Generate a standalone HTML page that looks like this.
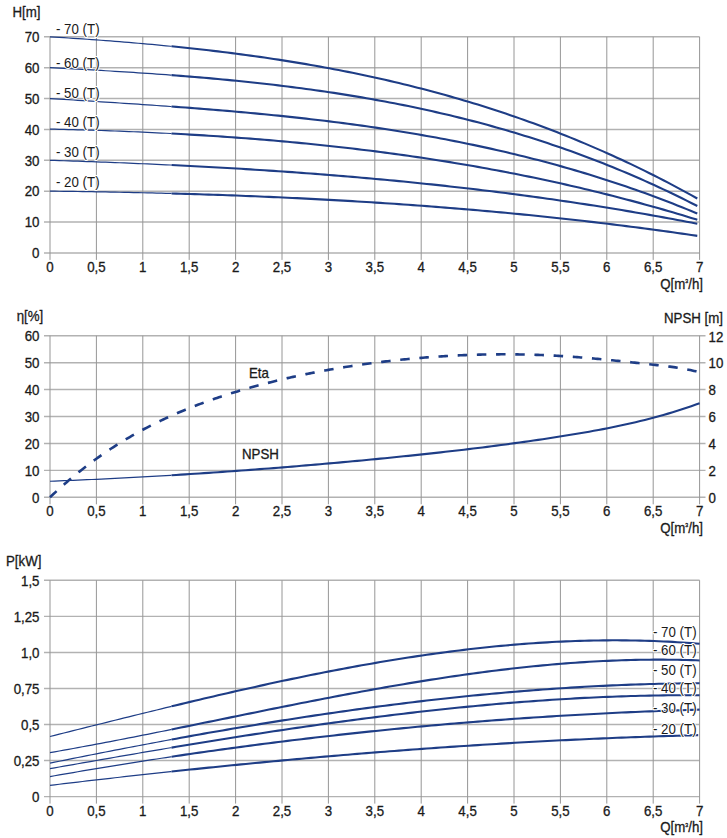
<!DOCTYPE html>
<html><head><meta charset="utf-8"><style>
html,body{margin:0;padding:0;background:#fff;}
svg{display:block;}
text{font-family:"Liberation Sans", sans-serif;fill:#1a1a1a;stroke:#1a1a1a;stroke-width:0.3px;}
text.halo{stroke:#fff;stroke-width:2px;paint-order:stroke;stroke-linejoin:round;}
</style></head><body>
<svg width="727" height="838" viewBox="0 0 727 838">
<line x1="44" y1="252.90" x2="699.60" y2="252.90" stroke="#b2b2b2" stroke-width="1.45"/>
<line x1="44" y1="222.03" x2="699.60" y2="222.03" stroke="#b2b2b2" stroke-width="1.45"/>
<line x1="44" y1="191.16" x2="699.60" y2="191.16" stroke="#b2b2b2" stroke-width="1.45"/>
<line x1="44" y1="160.29" x2="699.60" y2="160.29" stroke="#b2b2b2" stroke-width="1.45"/>
<line x1="44" y1="129.42" x2="699.60" y2="129.42" stroke="#b2b2b2" stroke-width="1.45"/>
<line x1="44" y1="98.55" x2="699.60" y2="98.55" stroke="#b2b2b2" stroke-width="1.45"/>
<line x1="44" y1="67.68" x2="699.60" y2="67.68" stroke="#b2b2b2" stroke-width="1.45"/>
<line x1="44" y1="36.81" x2="699.60" y2="36.81" stroke="#b2b2b2" stroke-width="1.45"/>
<line x1="50.00" y1="36.81" x2="50.00" y2="259.90" stroke="#969696" stroke-width="1.0"/>
<line x1="96.40" y1="36.81" x2="96.40" y2="259.90" stroke="#969696" stroke-width="1.0"/>
<line x1="142.80" y1="36.81" x2="142.80" y2="259.90" stroke="#969696" stroke-width="1.0"/>
<line x1="189.20" y1="36.81" x2="189.20" y2="259.90" stroke="#969696" stroke-width="1.0"/>
<line x1="235.60" y1="36.81" x2="235.60" y2="259.90" stroke="#969696" stroke-width="1.0"/>
<line x1="282.00" y1="36.81" x2="282.00" y2="259.90" stroke="#969696" stroke-width="1.0"/>
<line x1="328.40" y1="36.81" x2="328.40" y2="259.90" stroke="#969696" stroke-width="1.0"/>
<line x1="374.80" y1="36.81" x2="374.80" y2="259.90" stroke="#969696" stroke-width="1.0"/>
<line x1="421.20" y1="36.81" x2="421.20" y2="259.90" stroke="#969696" stroke-width="1.0"/>
<line x1="467.60" y1="36.81" x2="467.60" y2="259.90" stroke="#969696" stroke-width="1.0"/>
<line x1="514.00" y1="36.81" x2="514.00" y2="259.90" stroke="#969696" stroke-width="1.0"/>
<line x1="560.40" y1="36.81" x2="560.40" y2="259.90" stroke="#969696" stroke-width="1.0"/>
<line x1="606.80" y1="36.81" x2="606.80" y2="259.90" stroke="#969696" stroke-width="1.0"/>
<line x1="653.20" y1="36.81" x2="653.20" y2="259.90" stroke="#969696" stroke-width="1.0"/>
<line x1="699.60" y1="36.81" x2="699.60" y2="259.90" stroke="#969696" stroke-width="1.0"/>
<text transform="translate(12.50,16.90) scale(0.95,1)" text-anchor="start" font-size="14">H[m]</text>
<text transform="translate(39.50,258.20) scale(0.95,1)" text-anchor="end" font-size="14">0</text>
<text transform="translate(39.50,227.33) scale(0.95,1)" text-anchor="end" font-size="14">10</text>
<text transform="translate(39.50,196.46) scale(0.95,1)" text-anchor="end" font-size="14">20</text>
<text transform="translate(39.50,165.59) scale(0.95,1)" text-anchor="end" font-size="14">30</text>
<text transform="translate(39.50,134.72) scale(0.95,1)" text-anchor="end" font-size="14">40</text>
<text transform="translate(39.50,103.85) scale(0.95,1)" text-anchor="end" font-size="14">50</text>
<text transform="translate(39.50,72.98) scale(0.95,1)" text-anchor="end" font-size="14">60</text>
<text transform="translate(39.50,42.11) scale(0.95,1)" text-anchor="end" font-size="14">70</text>
<text transform="translate(50.00,271.80) scale(0.95,1)" text-anchor="middle" font-size="14">0</text>
<text transform="translate(96.40,271.80) scale(0.95,1)" text-anchor="middle" font-size="14">0,5</text>
<text transform="translate(142.80,271.80) scale(0.95,1)" text-anchor="middle" font-size="14">1</text>
<text transform="translate(189.20,271.80) scale(0.95,1)" text-anchor="middle" font-size="14">1,5</text>
<text transform="translate(235.60,271.80) scale(0.95,1)" text-anchor="middle" font-size="14">2</text>
<text transform="translate(282.00,271.80) scale(0.95,1)" text-anchor="middle" font-size="14">2,5</text>
<text transform="translate(328.40,271.80) scale(0.95,1)" text-anchor="middle" font-size="14">3</text>
<text transform="translate(374.80,271.80) scale(0.95,1)" text-anchor="middle" font-size="14">3,5</text>
<text transform="translate(421.20,271.80) scale(0.95,1)" text-anchor="middle" font-size="14">4</text>
<text transform="translate(467.60,271.80) scale(0.95,1)" text-anchor="middle" font-size="14">4,5</text>
<text transform="translate(514.00,271.80) scale(0.95,1)" text-anchor="middle" font-size="14">5</text>
<text transform="translate(560.40,271.80) scale(0.95,1)" text-anchor="middle" font-size="14">5,5</text>
<text transform="translate(606.80,271.80) scale(0.95,1)" text-anchor="middle" font-size="14">6</text>
<text transform="translate(653.20,271.80) scale(0.95,1)" text-anchor="middle" font-size="14">6,5</text>
<text transform="translate(699.60,271.80) scale(0.95,1)" text-anchor="middle" font-size="14">7</text>
<text transform="translate(703.00,289.20) scale(0.95,1)" text-anchor="end" font-size="14">Q[m<tspan font-size="5.5" dy="-5.8">3</tspan><tspan dy="5.8">/h]</tspan></text>
<path d="M50.00,36.81 L54.64,37.10 L59.28,37.39 L63.92,37.69 L68.56,37.99 L73.20,38.30 L77.84,38.61 L82.48,38.93 L87.12,39.26 L91.76,39.59 L96.40,39.92 L101.04,40.26 L105.68,40.61 L110.32,40.97 L114.96,41.33 L119.60,41.69 L124.24,42.07 L128.88,42.45 L133.52,42.84 L138.16,43.24 L142.80,43.64 L147.44,44.05 L152.08,44.47 L156.72,44.90 L161.36,45.34 L166.00,45.78 L170.64,46.24 L171.57,46.33" fill="none" stroke="#1e3d86" stroke-width="1.2"/>
<path d="M171.57,46.33 L176.21,46.79 L180.85,47.27 L185.49,47.75 L190.13,48.24 L194.77,48.75 L199.41,49.26 L204.05,49.78 L208.69,50.31 L213.33,50.86 L217.97,51.41 L222.61,51.97 L227.25,52.55 L231.89,53.13 L236.53,53.73 L241.17,54.34 L245.81,54.96 L250.45,55.59 L255.09,56.24 L259.73,56.89 L264.37,57.56 L269.01,58.24 L273.65,58.93 L278.29,59.64 L282.93,60.36 L287.57,61.09 L292.21,61.84 L296.85,62.60 L301.49,63.37 L306.13,64.16 L310.77,64.96 L315.41,65.77 L320.05,66.60 L324.69,67.45 L329.33,68.30 L333.97,69.18 L338.61,70.07 L343.25,70.97 L347.89,71.89 L352.53,72.82 L357.17,73.78 L361.81,74.74 L366.45,75.73 L371.09,76.72 L375.73,77.74 L380.37,78.77 L385.01,79.82 L389.65,80.89 L394.29,81.97 L398.93,83.07 L403.57,84.19 L408.21,85.33 L412.85,86.48 L417.49,87.65 L422.13,88.84 L426.77,90.05 L431.41,91.28 L436.05,92.53 L440.69,93.79 L445.33,95.08 L449.97,96.38 L454.61,97.70 L459.25,99.05 L463.89,100.41 L468.53,101.79 L473.17,103.20 L477.81,104.62 L482.45,106.06 L487.09,107.53 L491.73,109.01 L496.37,110.52 L501.01,112.05 L505.65,113.60 L510.29,115.17 L514.93,116.76 L519.57,118.38 L524.21,120.01 L528.85,121.67 L533.49,123.35 L538.13,125.06 L542.77,126.78 L547.41,128.53 L552.05,130.31 L556.69,132.10 L561.33,133.92 L565.97,135.77 L570.61,137.64 L575.25,139.53 L579.89,141.44 L584.53,143.38 L589.17,145.35 L593.81,147.34 L598.45,149.35 L603.09,151.39 L607.73,153.46 L612.37,155.55 L617.01,157.67 L621.65,159.81 L626.29,161.98 L630.93,164.17 L635.57,166.39 L640.21,168.64 L644.85,170.91 L649.49,173.21 L654.13,175.54 L658.77,177.90 L663.41,180.28 L668.05,182.69 L672.69,185.13 L677.33,187.59 L681.97,190.09 L686.61,192.61 L691.25,195.16 L695.89,197.74 L697.28,198.52" fill="none" stroke="#1e3d86" stroke-width="2.1"/>
<path d="M50.00,67.65 L54.64,67.89 L59.28,68.14 L63.92,68.39 L68.56,68.64 L73.20,68.89 L77.84,69.15 L82.48,69.40 L87.12,69.66 L91.76,69.93 L96.40,70.19 L101.04,70.46 L105.68,70.74 L110.32,71.02 L114.96,71.30 L119.60,71.58 L124.24,71.88 L128.88,72.17 L133.52,72.47 L138.16,72.78 L142.80,73.09 L147.44,73.40 L152.08,73.72 L156.72,74.05 L161.36,74.38 L166.00,74.72 L170.64,75.07 L171.57,75.14" fill="none" stroke="#1e3d86" stroke-width="1.2"/>
<path d="M171.57,75.14 L176.21,75.49 L180.85,75.85 L185.49,76.22 L190.13,76.59 L194.77,76.98 L199.41,77.37 L204.05,77.77 L208.69,78.17 L213.33,78.59 L217.97,79.01 L222.61,79.44 L227.25,79.88 L231.89,80.33 L236.53,80.79 L241.17,81.26 L245.81,81.73 L250.45,82.22 L255.09,82.72 L259.73,83.23 L264.37,83.75 L269.01,84.28 L273.65,84.82 L278.29,85.37 L282.93,85.93 L287.57,86.50 L292.21,87.09 L296.85,87.68 L301.49,88.29 L306.13,88.92 L310.77,89.55 L315.41,90.20 L320.05,90.86 L324.69,91.53 L329.33,92.21 L333.97,92.91 L338.61,93.63 L343.25,94.35 L347.89,95.09 L352.53,95.85 L357.17,96.62 L361.81,97.40 L366.45,98.20 L371.09,99.02 L375.73,99.85 L380.37,100.69 L385.01,101.55 L389.65,102.43 L394.29,103.32 L398.93,104.23 L403.57,105.15 L408.21,106.09 L412.85,107.05 L417.49,108.03 L422.13,109.02 L426.77,110.03 L431.41,111.06 L436.05,112.11 L440.69,113.17 L445.33,114.25 L449.97,115.35 L454.61,116.47 L459.25,117.61 L463.89,118.77 L468.53,119.94 L473.17,121.14 L477.81,122.35 L482.45,123.59 L487.09,124.84 L491.73,126.12 L496.37,127.41 L501.01,128.73 L505.65,130.07 L510.29,131.43 L514.93,132.81 L519.57,134.21 L524.21,135.63 L528.85,137.07 L533.49,138.54 L538.13,140.03 L542.77,141.54 L547.41,143.08 L552.05,144.63 L556.69,146.21 L561.33,147.81 L565.97,149.44 L570.61,151.09 L575.25,152.76 L579.89,154.46 L584.53,156.18 L589.17,157.93 L593.81,159.70 L598.45,161.50 L603.09,163.32 L607.73,165.17 L612.37,167.04 L617.01,168.93 L621.65,170.86 L626.29,172.81 L630.93,174.78 L635.57,176.78 L640.21,178.81 L644.85,180.87 L649.49,182.95 L654.13,185.06 L658.77,187.20 L663.41,189.36 L668.05,191.55 L672.69,193.77 L677.33,196.02 L681.97,198.30 L686.61,200.60 L691.25,202.94 L695.89,205.30 L697.28,206.02" fill="none" stroke="#1e3d86" stroke-width="2.1"/>
<path d="M50.00,98.53 L54.64,98.83 L59.28,99.12 L63.92,99.42 L68.56,99.71 L73.20,100.01 L77.84,100.30 L82.48,100.60 L87.12,100.89 L91.76,101.19 L96.40,101.49 L101.04,101.78 L105.68,102.08 L110.32,102.38 L114.96,102.68 L119.60,102.99 L124.24,103.29 L128.88,103.60 L133.52,103.91 L138.16,104.22 L142.80,104.53 L147.44,104.85 L152.08,105.17 L156.72,105.49 L161.36,105.82 L166.00,106.15 L170.64,106.48 L171.57,106.55" fill="none" stroke="#1e3d86" stroke-width="1.2"/>
<path d="M171.57,106.55 L176.21,106.89 L180.85,107.23 L185.49,107.57 L190.13,107.92 L194.77,108.28 L199.41,108.64 L204.05,109.00 L208.69,109.37 L213.33,109.75 L217.97,110.13 L222.61,110.52 L227.25,110.91 L231.89,111.31 L236.53,111.71 L241.17,112.12 L245.81,112.54 L250.45,112.97 L255.09,113.40 L259.73,113.84 L264.37,114.28 L269.01,114.73 L273.65,115.20 L278.29,115.66 L282.93,116.14 L287.57,116.63 L292.21,117.12 L296.85,117.62 L301.49,118.13 L306.13,118.65 L310.77,119.18 L315.41,119.72 L320.05,120.27 L324.69,120.83 L329.33,121.39 L333.97,121.97 L338.61,122.56 L343.25,123.16 L347.89,123.77 L352.53,124.38 L357.17,125.02 L361.81,125.66 L366.45,126.31 L371.09,126.97 L375.73,127.65 L380.37,128.34 L385.01,129.04 L389.65,129.75 L394.29,130.48 L398.93,131.21 L403.57,131.96 L408.21,132.73 L412.85,133.50 L417.49,134.29 L422.13,135.10 L426.77,135.91 L431.41,136.74 L436.05,137.59 L440.69,138.45 L445.33,139.32 L449.97,140.21 L454.61,141.11 L459.25,142.03 L463.89,142.96 L468.53,143.91 L473.17,144.87 L477.81,145.85 L482.45,146.85 L487.09,147.86 L491.73,148.89 L496.37,149.93 L501.01,150.99 L505.65,152.07 L510.29,153.16 L514.93,154.28 L519.57,155.41 L524.21,156.55 L528.85,157.72 L533.49,158.90 L538.13,160.10 L542.77,161.32 L547.41,162.55 L552.05,163.81 L556.69,165.08 L561.33,166.38 L565.97,167.69 L570.61,169.02 L575.25,170.37 L579.89,171.74 L584.53,173.13 L589.17,174.54 L593.81,175.97 L598.45,177.43 L603.09,178.90 L607.73,180.39 L612.37,181.91 L617.01,183.44 L621.65,185.00 L626.29,186.57 L630.93,188.17 L635.57,189.80 L640.21,191.44 L644.85,193.11 L649.49,194.79 L654.13,196.50 L658.77,198.24 L663.41,200.00 L668.05,201.77 L672.69,203.58 L677.33,205.40 L681.97,207.26 L686.61,209.13 L691.25,211.03 L695.89,212.95 L697.28,213.53" fill="none" stroke="#1e3d86" stroke-width="2.1"/>
<path d="M50.00,129.08 L54.64,129.19 L59.28,129.30 L63.92,129.42 L68.56,129.54 L73.20,129.67 L77.84,129.80 L82.48,129.93 L87.12,130.07 L91.76,130.22 L96.40,130.37 L101.04,130.52 L105.68,130.68 L110.32,130.85 L114.96,131.02 L119.60,131.20 L124.24,131.38 L128.88,131.56 L133.52,131.76 L138.16,131.96 L142.80,132.16 L147.44,132.37 L152.08,132.58 L156.72,132.80 L161.36,133.03 L166.00,133.27 L170.64,133.50 L171.57,133.55" fill="none" stroke="#1e3d86" stroke-width="1.2"/>
<path d="M171.57,133.55 L176.21,133.80 L180.85,134.05 L185.49,134.31 L190.13,134.58 L194.77,134.85 L199.41,135.13 L204.05,135.42 L208.69,135.71 L213.33,136.01 L217.97,136.32 L222.61,136.63 L227.25,136.95 L231.89,137.28 L236.53,137.61 L241.17,137.95 L245.81,138.30 L250.45,138.66 L255.09,139.03 L259.73,139.40 L264.37,139.78 L269.01,140.16 L273.65,140.56 L278.29,140.96 L282.93,141.38 L287.57,141.79 L292.21,142.22 L296.85,142.66 L301.49,143.10 L306.13,143.56 L310.77,144.02 L315.41,144.49 L320.05,144.96 L324.69,145.45 L329.33,145.95 L333.97,146.45 L338.61,146.96 L343.25,147.49 L347.89,148.02 L352.53,148.56 L357.17,149.11 L361.81,149.67 L366.45,150.24 L371.09,150.81 L375.73,151.40 L380.37,152.00 L385.01,152.61 L389.65,153.22 L394.29,153.85 L398.93,154.48 L403.57,155.13 L408.21,155.79 L412.85,156.45 L417.49,157.13 L422.13,157.82 L426.77,158.51 L431.41,159.22 L436.05,159.94 L440.69,160.67 L445.33,161.41 L449.97,162.16 L454.61,162.92 L459.25,163.69 L463.89,164.48 L468.53,165.27 L473.17,166.07 L477.81,166.89 L482.45,167.72 L487.09,168.56 L491.73,169.41 L496.37,170.27 L501.01,171.14 L505.65,172.03 L510.29,172.93 L514.93,173.84 L519.57,174.76 L524.21,175.69 L528.85,176.63 L533.49,177.59 L538.13,178.56 L542.77,179.54 L547.41,180.54 L552.05,181.54 L556.69,182.56 L561.33,183.59 L565.97,184.64 L570.61,185.69 L575.25,186.76 L579.89,187.85 L584.53,188.94 L589.17,190.05 L593.81,191.17 L598.45,192.31 L603.09,193.45 L607.73,194.62 L612.37,195.79 L617.01,196.98 L621.65,198.18 L626.29,199.40 L630.93,200.63 L635.57,201.87 L640.21,203.13 L644.85,204.40 L649.49,205.68 L654.13,206.98 L658.77,208.30 L663.41,209.62 L668.05,210.97 L672.69,212.32 L677.33,213.69 L681.97,215.08 L686.61,216.48 L691.25,217.89 L695.89,219.32 L697.28,219.76" fill="none" stroke="#1e3d86" stroke-width="2.1"/>
<path d="M50.00,160.32 L54.64,160.46 L59.28,160.61 L63.92,160.76 L68.56,160.91 L73.20,161.06 L77.84,161.22 L82.48,161.38 L87.12,161.54 L91.76,161.71 L96.40,161.88 L101.04,162.05 L105.68,162.22 L110.32,162.40 L114.96,162.58 L119.60,162.77 L124.24,162.95 L128.88,163.14 L133.52,163.33 L138.16,163.53 L142.80,163.73 L147.44,163.93 L152.08,164.14 L156.72,164.35 L161.36,164.56 L166.00,164.78 L170.64,165.00 L171.57,165.04" fill="none" stroke="#1e3d86" stroke-width="1.2"/>
<path d="M171.57,165.04 L176.21,165.27 L180.85,165.50 L185.49,165.73 L190.13,165.96 L194.77,166.20 L199.41,166.45 L204.05,166.69 L208.69,166.94 L213.33,167.20 L217.97,167.46 L222.61,167.72 L227.25,167.99 L231.89,168.26 L236.53,168.53 L241.17,168.81 L245.81,169.10 L250.45,169.38 L255.09,169.68 L259.73,169.97 L264.37,170.27 L269.01,170.58 L273.65,170.89 L278.29,171.20 L282.93,171.52 L287.57,171.85 L292.21,172.17 L296.85,172.51 L301.49,172.84 L306.13,173.19 L310.77,173.53 L315.41,173.89 L320.05,174.24 L324.69,174.61 L329.33,174.97 L333.97,175.35 L338.61,175.72 L343.25,176.11 L347.89,176.49 L352.53,176.89 L357.17,177.28 L361.81,177.69 L366.45,178.10 L371.09,178.51 L375.73,178.93 L380.37,179.36 L385.01,179.79 L389.65,180.22 L394.29,180.67 L398.93,181.11 L403.57,181.57 L408.21,182.02 L412.85,182.49 L417.49,182.96 L422.13,183.44 L426.77,183.92 L431.41,184.41 L436.05,184.90 L440.69,185.40 L445.33,185.91 L449.97,186.42 L454.61,186.94 L459.25,187.46 L463.89,188.00 L468.53,188.53 L473.17,189.08 L477.81,189.63 L482.45,190.18 L487.09,190.75 L491.73,191.32 L496.37,191.89 L501.01,192.47 L505.65,193.06 L510.29,193.66 L514.93,194.26 L519.57,194.87 L524.21,195.49 L528.85,196.11 L533.49,196.74 L538.13,197.38 L542.77,198.02 L547.41,198.67 L552.05,199.33 L556.69,200.00 L561.33,200.67 L565.97,201.35 L570.61,202.03 L575.25,202.73 L579.89,203.43 L584.53,204.14 L589.17,204.85 L593.81,205.58 L598.45,206.31 L603.09,207.05 L607.73,207.79 L612.37,208.55 L617.01,209.31 L621.65,210.08 L626.29,210.85 L630.93,211.64 L635.57,212.43 L640.21,213.23 L644.85,214.04 L649.49,214.85 L654.13,215.68 L658.77,216.51 L663.41,217.35 L668.05,218.20 L672.69,219.06 L677.33,219.92 L681.97,220.79 L686.61,221.68 L691.25,222.56 L695.89,223.46 L697.28,223.73" fill="none" stroke="#1e3d86" stroke-width="2.1"/>
<path d="M50.00,191.13 L54.64,191.19 L59.28,191.25 L63.92,191.31 L68.56,191.37 L73.20,191.44 L77.84,191.50 L82.48,191.57 L87.12,191.65 L91.76,191.72 L96.40,191.80 L101.04,191.88 L105.68,191.97 L110.32,192.05 L114.96,192.14 L119.60,192.23 L124.24,192.33 L128.88,192.43 L133.52,192.53 L138.16,192.63 L142.80,192.74 L147.44,192.85 L152.08,192.96 L156.72,193.07 L161.36,193.19 L166.00,193.32 L170.64,193.44 L171.57,193.47" fill="none" stroke="#1e3d86" stroke-width="1.2"/>
<path d="M171.57,193.47 L176.21,193.59 L180.85,193.73 L185.49,193.86 L190.13,194.00 L194.77,194.14 L199.41,194.29 L204.05,194.44 L208.69,194.59 L213.33,194.74 L217.97,194.90 L222.61,195.06 L227.25,195.23 L231.89,195.40 L236.53,195.57 L241.17,195.75 L245.81,195.93 L250.45,196.11 L255.09,196.30 L259.73,196.49 L264.37,196.69 L269.01,196.89 L273.65,197.09 L278.29,197.30 L282.93,197.51 L287.57,197.72 L292.21,197.94 L296.85,198.16 L301.49,198.39 L306.13,198.62 L310.77,198.85 L315.41,199.09 L320.05,199.34 L324.69,199.58 L329.33,199.83 L333.97,200.09 L338.61,200.35 L343.25,200.61 L347.89,200.88 L352.53,201.15 L357.17,201.43 L361.81,201.71 L366.45,202.00 L371.09,202.29 L375.73,202.59 L380.37,202.89 L385.01,203.19 L389.65,203.50 L394.29,203.81 L398.93,204.13 L403.57,204.45 L408.21,204.78 L412.85,205.11 L417.49,205.45 L422.13,205.79 L426.77,206.14 L431.41,206.49 L436.05,206.85 L440.69,207.21 L445.33,207.58 L449.97,207.95 L454.61,208.33 L459.25,208.71 L463.89,209.09 L468.53,209.49 L473.17,209.88 L477.81,210.29 L482.45,210.69 L487.09,211.11 L491.73,211.53 L496.37,211.95 L501.01,212.38 L505.65,212.81 L510.29,213.25 L514.93,213.70 L519.57,214.15 L524.21,214.60 L528.85,215.07 L533.49,215.53 L538.13,216.01 L542.77,216.49 L547.41,216.97 L552.05,217.46 L556.69,217.96 L561.33,218.46 L565.97,218.96 L570.61,219.48 L575.25,220.00 L579.89,220.52 L584.53,221.05 L589.17,221.59 L593.81,222.13 L598.45,222.68 L603.09,223.24 L607.73,223.80 L612.37,224.36 L617.01,224.94 L621.65,225.52 L626.29,226.10 L630.93,226.69 L635.57,227.29 L640.21,227.90 L644.85,228.51 L649.49,229.12 L654.13,229.75 L658.77,230.38 L663.41,231.01 L668.05,231.66 L672.69,232.30 L677.33,232.96 L681.97,233.62 L686.61,234.29 L691.25,234.97 L695.89,235.65 L697.28,235.86" fill="none" stroke="#1e3d86" stroke-width="2.1"/>
<text transform="translate(56.00,33.80) scale(0.95,1)" text-anchor="start" font-size="14" class="halo">- 70 (T)</text>
<text transform="translate(56.00,67.60) scale(0.95,1)" text-anchor="start" font-size="14" class="halo">- 60 (T)</text>
<text transform="translate(56.00,97.70) scale(0.95,1)" text-anchor="start" font-size="14" class="halo">- 50 (T)</text>
<text transform="translate(56.00,126.70) scale(0.95,1)" text-anchor="start" font-size="14" class="halo">- 40 (T)</text>
<text transform="translate(56.00,156.80) scale(0.95,1)" text-anchor="start" font-size="14" class="halo">- 30 (T)</text>
<text transform="translate(56.00,186.90) scale(0.95,1)" text-anchor="start" font-size="14" class="halo">- 20 (T)</text>
<line x1="44" y1="497.30" x2="705.50" y2="497.30" stroke="#b2b2b2" stroke-width="1.45"/>
<line x1="44" y1="470.37" x2="705.50" y2="470.37" stroke="#b2b2b2" stroke-width="1.45"/>
<line x1="44" y1="443.44" x2="705.50" y2="443.44" stroke="#b2b2b2" stroke-width="1.45"/>
<line x1="44" y1="416.51" x2="705.50" y2="416.51" stroke="#b2b2b2" stroke-width="1.45"/>
<line x1="44" y1="389.58" x2="705.50" y2="389.58" stroke="#b2b2b2" stroke-width="1.45"/>
<line x1="44" y1="362.65" x2="705.50" y2="362.65" stroke="#b2b2b2" stroke-width="1.45"/>
<line x1="44" y1="335.72" x2="705.50" y2="335.72" stroke="#b2b2b2" stroke-width="1.45"/>
<line x1="50.00" y1="335.72" x2="50.00" y2="504.30" stroke="#969696" stroke-width="1.0"/>
<line x1="96.40" y1="335.72" x2="96.40" y2="504.30" stroke="#969696" stroke-width="1.0"/>
<line x1="142.80" y1="335.72" x2="142.80" y2="504.30" stroke="#969696" stroke-width="1.0"/>
<line x1="189.20" y1="335.72" x2="189.20" y2="504.30" stroke="#969696" stroke-width="1.0"/>
<line x1="235.60" y1="335.72" x2="235.60" y2="504.30" stroke="#969696" stroke-width="1.0"/>
<line x1="282.00" y1="335.72" x2="282.00" y2="504.30" stroke="#969696" stroke-width="1.0"/>
<line x1="328.40" y1="335.72" x2="328.40" y2="504.30" stroke="#969696" stroke-width="1.0"/>
<line x1="374.80" y1="335.72" x2="374.80" y2="504.30" stroke="#969696" stroke-width="1.0"/>
<line x1="421.20" y1="335.72" x2="421.20" y2="504.30" stroke="#969696" stroke-width="1.0"/>
<line x1="467.60" y1="335.72" x2="467.60" y2="504.30" stroke="#969696" stroke-width="1.0"/>
<line x1="514.00" y1="335.72" x2="514.00" y2="504.30" stroke="#969696" stroke-width="1.0"/>
<line x1="560.40" y1="335.72" x2="560.40" y2="504.30" stroke="#969696" stroke-width="1.0"/>
<line x1="606.80" y1="335.72" x2="606.80" y2="504.30" stroke="#969696" stroke-width="1.0"/>
<line x1="653.20" y1="335.72" x2="653.20" y2="504.30" stroke="#969696" stroke-width="1.0"/>
<line x1="699.60" y1="335.72" x2="699.60" y2="504.30" stroke="#969696" stroke-width="1.0"/>
<text transform="translate(16.70,321.40) scale(0.95,1)" text-anchor="start" font-size="14">η[%]</text>
<text transform="translate(723.00,322.80) scale(0.95,1)" text-anchor="end" font-size="14">NPSH [m]</text>
<text transform="translate(39.50,502.60) scale(0.95,1)" text-anchor="end" font-size="14">0</text>
<text transform="translate(708.50,503.10) scale(0.95,1)" text-anchor="start" font-size="14">0</text>
<text transform="translate(39.50,475.67) scale(0.95,1)" text-anchor="end" font-size="14">10</text>
<text transform="translate(708.50,476.17) scale(0.95,1)" text-anchor="start" font-size="14">2</text>
<text transform="translate(39.50,448.74) scale(0.95,1)" text-anchor="end" font-size="14">20</text>
<text transform="translate(708.50,449.24) scale(0.95,1)" text-anchor="start" font-size="14">4</text>
<text transform="translate(39.50,421.81) scale(0.95,1)" text-anchor="end" font-size="14">30</text>
<text transform="translate(708.50,422.31) scale(0.95,1)" text-anchor="start" font-size="14">6</text>
<text transform="translate(39.50,394.88) scale(0.95,1)" text-anchor="end" font-size="14">40</text>
<text transform="translate(708.50,395.38) scale(0.95,1)" text-anchor="start" font-size="14">8</text>
<text transform="translate(39.50,367.95) scale(0.95,1)" text-anchor="end" font-size="14">50</text>
<text transform="translate(708.50,368.45) scale(0.95,1)" text-anchor="start" font-size="14">10</text>
<text transform="translate(39.50,341.02) scale(0.95,1)" text-anchor="end" font-size="14">60</text>
<text transform="translate(708.50,341.52) scale(0.95,1)" text-anchor="start" font-size="14">12</text>
<text transform="translate(50.00,516.00) scale(0.95,1)" text-anchor="middle" font-size="14">0</text>
<text transform="translate(96.40,516.00) scale(0.95,1)" text-anchor="middle" font-size="14">0,5</text>
<text transform="translate(142.80,516.00) scale(0.95,1)" text-anchor="middle" font-size="14">1</text>
<text transform="translate(189.20,516.00) scale(0.95,1)" text-anchor="middle" font-size="14">1,5</text>
<text transform="translate(235.60,516.00) scale(0.95,1)" text-anchor="middle" font-size="14">2</text>
<text transform="translate(282.00,516.00) scale(0.95,1)" text-anchor="middle" font-size="14">2,5</text>
<text transform="translate(328.40,516.00) scale(0.95,1)" text-anchor="middle" font-size="14">3</text>
<text transform="translate(374.80,516.00) scale(0.95,1)" text-anchor="middle" font-size="14">3,5</text>
<text transform="translate(421.20,516.00) scale(0.95,1)" text-anchor="middle" font-size="14">4</text>
<text transform="translate(467.60,516.00) scale(0.95,1)" text-anchor="middle" font-size="14">4,5</text>
<text transform="translate(514.00,516.00) scale(0.95,1)" text-anchor="middle" font-size="14">5</text>
<text transform="translate(560.40,516.00) scale(0.95,1)" text-anchor="middle" font-size="14">5,5</text>
<text transform="translate(606.80,516.00) scale(0.95,1)" text-anchor="middle" font-size="14">6</text>
<text transform="translate(653.20,516.00) scale(0.95,1)" text-anchor="middle" font-size="14">6,5</text>
<text transform="translate(699.60,516.00) scale(0.95,1)" text-anchor="middle" font-size="14">7</text>
<text transform="translate(703.00,533.00) scale(0.95,1)" text-anchor="end" font-size="14">Q[m<tspan font-size="5.5" dy="-5.8">3</tspan><tspan dy="5.8">/h]</tspan></text>
<path d="M50.00,497.30 L51.86,495.54 L53.71,493.80 L55.57,492.08 L57.42,490.38 L59.28,488.70 L61.14,487.03 L62.99,485.39 L64.85,483.76 L66.70,482.15 L68.56,480.56 L70.42,478.98 L72.27,477.43 L74.13,475.89 L75.98,474.36 L77.84,472.86 L79.70,471.37 L81.55,469.90 L83.41,468.44 L85.26,467.01 L87.12,465.58 L88.98,464.18 L90.83,462.79 L92.69,461.41 L94.54,460.05 L96.40,458.71 L98.26,457.38 L100.11,456.07 L101.97,454.77 L103.82,453.49 L105.68,452.22 L107.54,450.97 L109.39,449.73 L111.25,448.51 L113.10,447.30 L114.96,446.10 L116.82,444.92 L118.67,443.75 L120.53,442.60 L122.38,441.46 L124.24,440.33 L126.10,439.22 L127.95,438.12 L129.81,437.03 L131.66,435.95 L133.52,434.89 L135.38,433.84 L137.23,432.80 L139.09,431.78 L140.94,430.76 L142.80,429.76 L144.66,428.77 L146.51,427.79 L148.37,426.82 L150.22,425.87 L152.08,424.92 L153.94,423.99 L155.79,423.06 L157.65,422.15 L159.50,421.25 L161.36,420.36 L163.22,419.48 L165.07,418.61 L166.93,417.75 L168.78,416.90 L170.64,416.06 L172.50,415.23 L174.35,414.41 L176.21,413.60 L178.06,412.80 L179.92,412.00 L181.78,411.22 L183.63,410.45 L185.49,409.68 L187.34,408.93 L189.20,408.18 L191.06,407.44 L192.91,406.71 L194.77,405.99 L196.62,405.27 L198.48,404.57 L200.34,403.87 L202.19,403.18 L204.05,402.50 L205.90,401.83 L207.76,401.16 L209.62,400.50 L211.47,399.85 L213.33,399.20 L215.18,398.56 L217.04,397.93 L218.90,397.31 L220.75,396.69 L222.61,396.08 L224.46,395.47 L226.32,394.87 L228.18,394.28 L230.03,393.69 L231.89,393.11 L233.74,392.54 L235.60,391.97 L237.46,391.40 L239.31,390.84 L241.17,390.29 L243.02,389.74 L244.88,389.20 L246.74,388.66 L248.59,388.13 L250.45,387.60 L252.30,387.08 L254.16,386.57 L256.02,386.06 L257.87,385.55 L259.73,385.05 L261.58,384.55 L263.44,384.06 L265.30,383.58 L267.15,383.10 L269.01,382.62 L270.86,382.15 L272.72,381.69 L274.58,381.23 L276.43,380.77 L278.29,380.32 L280.14,379.87 L282.00,379.43 L283.86,378.99 L285.71,378.56 L287.57,378.14 L289.42,377.71 L291.28,377.30 L293.14,376.88 L294.99,376.47 L296.85,376.07 L298.70,375.67 L300.56,375.27 L302.42,374.88 L304.27,374.50 L306.13,374.11 L307.98,373.74 L309.84,373.36 L311.70,372.99 L313.55,372.63 L315.41,372.27 L317.26,371.91 L319.12,371.56 L320.98,371.21 L322.83,370.87 L324.69,370.53 L326.54,370.19 L328.40,369.86 L330.26,369.53 L332.11,369.21 L333.97,368.89 L335.82,368.57 L337.68,368.26 L339.54,367.95 L341.39,367.65 L343.25,367.35 L345.10,367.05 L346.96,366.76 L348.82,366.47 L350.67,366.18 L352.53,365.90 L354.38,365.62 L356.24,365.35 L358.10,365.08 L359.95,364.81 L361.81,364.54 L363.66,364.28 L365.52,364.03 L367.38,363.77 L369.23,363.52 L371.09,363.27 L372.94,363.03 L374.80,362.79 L376.66,362.55 L378.51,362.32 L380.37,362.09 L382.22,361.86 L384.08,361.63 L385.94,361.41 L387.79,361.20 L389.65,360.98 L391.50,360.77 L393.36,360.56 L395.22,360.36 L397.07,360.16 L398.93,359.96 L400.78,359.76 L402.64,359.57 L404.50,359.38 L406.35,359.20 L408.21,359.02 L410.06,358.84 L411.92,358.67 L413.78,358.49 L415.63,358.33 L417.49,358.16 L419.34,358.00 L421.20,357.84 L423.06,357.69 L424.91,357.54 L426.77,357.39 L428.62,357.24 L430.48,357.10 L432.34,356.97 L434.19,356.83 L436.05,356.70 L437.90,356.57 L439.76,356.45 L441.62,356.33 L443.47,356.21 L445.33,356.10 L447.18,355.99 L449.04,355.88 L450.90,355.78 L452.75,355.68 L454.61,355.58 L456.46,355.49 L458.32,355.40 L460.18,355.32 L462.03,355.23 L463.89,355.15 L465.74,355.08 L467.60,355.01 L469.46,354.94 L471.31,354.87 L473.17,354.81 L475.02,354.75 L476.88,354.70 L478.74,354.65 L480.59,354.60 L482.45,354.56 L484.30,354.52 L486.16,354.48 L488.02,354.45 L489.87,354.42 L491.73,354.39 L493.58,354.37 L495.44,354.35 L497.30,354.34 L499.15,354.33 L501.01,354.32 L502.86,354.31 L504.72,354.31 L506.58,354.32 L508.43,354.32 L510.29,354.33 L512.14,354.35 L514.00,354.36 L515.86,354.38 L517.71,354.41 L519.57,354.44 L521.42,354.47 L523.28,354.50 L525.14,354.54 L526.99,354.59 L528.85,354.63 L530.70,354.68 L532.56,354.74 L534.42,354.79 L536.27,354.86 L538.13,354.92 L539.98,354.99 L541.84,355.06 L543.70,355.14 L545.55,355.22 L547.41,355.30 L549.26,355.39 L551.12,355.48 L552.98,355.57 L554.83,355.67 L556.69,355.77 L558.54,355.88 L560.40,355.99 L562.26,356.10 L564.11,356.22 L565.97,356.34 L567.82,356.46 L569.68,356.59 L571.54,356.72 L573.39,356.86 L575.25,356.99 L577.10,357.14 L578.96,357.28 L580.82,357.43 L582.67,357.58 L584.53,357.73 L586.38,357.88 L588.24,358.04 L590.10,358.20 L591.95,358.37 L593.81,358.53 L595.66,358.70 L597.52,358.87 L599.38,359.04 L601.23,359.22 L603.09,359.39 L604.94,359.57 L606.80,359.75 L608.66,359.94 L610.51,360.12 L612.37,360.31 L614.22,360.49 L616.08,360.68 L617.94,360.87 L619.79,361.07 L621.65,361.26 L623.50,361.45 L625.36,361.65 L627.22,361.85 L629.07,362.05 L630.93,362.24 L632.78,362.44 L634.64,362.65 L636.50,362.85 L638.35,363.05 L640.21,363.25 L642.06,363.45 L643.92,363.66 L645.78,363.86 L647.63,364.07 L649.49,364.27 L651.34,364.47 L653.20,364.68 L655.06,364.88 L656.91,365.09 L658.77,365.30 L660.62,365.51 L662.48,365.72 L664.34,365.94 L666.19,366.17 L668.05,366.40 L669.90,366.64 L671.76,366.89 L673.62,367.14 L675.47,367.41 L677.33,367.69 L679.18,367.99 L681.04,368.29 L682.90,368.62 L684.75,368.95 L686.61,369.31 L688.46,369.68 L690.32,370.07 L692.18,370.48 L694.03,370.91 L695.89,371.36 L697.74,371.84" fill="none" stroke="#1e3d86" stroke-width="2.6" stroke-dasharray="9.5 9.7" stroke-dashoffset="0.5"/>
<path d="M50.00,481.26 L54.64,481.08 L59.28,480.90 L63.92,480.71 L68.56,480.52 L73.20,480.32 L77.84,480.12 L82.48,479.92 L87.12,479.71 L91.76,479.50 L96.40,479.28 L101.04,479.06 L105.68,478.84 L110.32,478.61 L114.96,478.38 L119.60,478.14 L124.24,477.90 L128.88,477.66 L133.52,477.41 L138.16,477.16 L142.80,476.90 L147.44,476.65 L152.08,476.38 L156.72,476.11 L161.36,475.84 L166.00,475.57 L170.64,475.29 L171.57,475.23" fill="none" stroke="#1e3d86" stroke-width="1.2"/>
<path d="M171.57,475.23 L176.21,474.95 L180.85,474.66 L185.49,474.37 L190.13,474.07 L194.77,473.77 L199.41,473.47 L204.05,473.16 L208.69,472.85 L213.33,472.54 L217.97,472.22 L222.61,471.89 L227.25,471.57 L231.89,471.24 L236.53,470.90 L241.17,470.56 L245.81,470.22 L250.45,469.87 L255.09,469.52 L259.73,469.17 L264.37,468.81 L269.01,468.45 L273.65,468.09 L278.29,467.72 L282.93,467.35 L287.57,466.97 L292.21,466.59 L296.85,466.20 L301.49,465.82 L306.13,465.42 L310.77,465.03 L315.41,464.63 L320.05,464.23 L324.69,463.82 L329.33,463.41 L333.97,462.99 L338.61,462.58 L343.25,462.15 L347.89,461.73 L352.53,461.30 L357.17,460.87 L361.81,460.43 L366.45,459.99 L371.09,459.54 L375.73,459.10 L380.37,458.64 L385.01,458.19 L389.65,457.73 L394.29,457.27 L398.93,456.80 L403.57,456.32 L408.21,455.85 L412.85,455.36 L417.49,454.88 L422.13,454.38 L426.77,453.88 L431.41,453.38 L436.05,452.87 L440.69,452.35 L445.33,451.83 L449.97,451.31 L454.61,450.77 L459.25,450.23 L463.89,449.68 L468.53,449.13 L473.17,448.57 L477.81,448.00 L482.45,447.42 L487.09,446.84 L491.73,446.24 L496.37,445.64 L501.01,445.04 L505.65,444.42 L510.29,443.80 L514.93,443.16 L519.57,442.52 L524.21,441.87 L528.85,441.21 L533.49,440.54 L538.13,439.86 L542.77,439.17 L547.41,438.47 L552.05,437.77 L556.69,437.05 L561.33,436.32 L565.97,435.58 L570.61,434.83 L575.25,434.06 L579.89,433.28 L584.53,432.49 L589.17,431.67 L593.81,430.84 L598.45,429.98 L603.09,429.10 L607.73,428.20 L612.37,427.27 L617.01,426.32 L621.65,425.34 L626.29,424.32 L630.93,423.28 L635.57,422.20 L640.21,421.09 L644.85,419.95 L649.49,418.76 L654.13,417.54 L658.77,416.28 L663.41,414.97 L668.05,413.63 L672.69,412.23 L677.33,410.80 L681.97,409.31 L686.61,407.77 L691.25,406.19 L695.89,404.55 L699.60,403.20" fill="none" stroke="#1e3d86" stroke-width="2.1"/>
<text transform="translate(249.00,377.50) scale(0.95,1)" text-anchor="start" font-size="14">Eta</text>
<text transform="translate(242.00,458.80) scale(0.95,1)" text-anchor="start" font-size="14">NPSH</text>
<line x1="44" y1="796.60" x2="699.60" y2="796.60" stroke="#b2b2b2" stroke-width="1.45"/>
<line x1="44" y1="760.55" x2="699.60" y2="760.55" stroke="#b2b2b2" stroke-width="1.45"/>
<line x1="44" y1="724.50" x2="699.60" y2="724.50" stroke="#b2b2b2" stroke-width="1.45"/>
<line x1="44" y1="688.45" x2="699.60" y2="688.45" stroke="#b2b2b2" stroke-width="1.45"/>
<line x1="44" y1="652.40" x2="699.60" y2="652.40" stroke="#b2b2b2" stroke-width="1.45"/>
<line x1="44" y1="616.35" x2="699.60" y2="616.35" stroke="#b2b2b2" stroke-width="1.45"/>
<line x1="44" y1="580.30" x2="699.60" y2="580.30" stroke="#b2b2b2" stroke-width="1.45"/>
<line x1="50.00" y1="580.30" x2="50.00" y2="803.60" stroke="#969696" stroke-width="1.0"/>
<line x1="96.40" y1="580.30" x2="96.40" y2="803.60" stroke="#969696" stroke-width="1.0"/>
<line x1="142.80" y1="580.30" x2="142.80" y2="803.60" stroke="#969696" stroke-width="1.0"/>
<line x1="189.20" y1="580.30" x2="189.20" y2="803.60" stroke="#969696" stroke-width="1.0"/>
<line x1="235.60" y1="580.30" x2="235.60" y2="803.60" stroke="#969696" stroke-width="1.0"/>
<line x1="282.00" y1="580.30" x2="282.00" y2="803.60" stroke="#969696" stroke-width="1.0"/>
<line x1="328.40" y1="580.30" x2="328.40" y2="803.60" stroke="#969696" stroke-width="1.0"/>
<line x1="374.80" y1="580.30" x2="374.80" y2="803.60" stroke="#969696" stroke-width="1.0"/>
<line x1="421.20" y1="580.30" x2="421.20" y2="803.60" stroke="#969696" stroke-width="1.0"/>
<line x1="467.60" y1="580.30" x2="467.60" y2="803.60" stroke="#969696" stroke-width="1.0"/>
<line x1="514.00" y1="580.30" x2="514.00" y2="803.60" stroke="#969696" stroke-width="1.0"/>
<line x1="560.40" y1="580.30" x2="560.40" y2="803.60" stroke="#969696" stroke-width="1.0"/>
<line x1="606.80" y1="580.30" x2="606.80" y2="803.60" stroke="#969696" stroke-width="1.0"/>
<line x1="653.20" y1="580.30" x2="653.20" y2="803.60" stroke="#969696" stroke-width="1.0"/>
<line x1="699.60" y1="580.30" x2="699.60" y2="803.60" stroke="#969696" stroke-width="1.0"/>
<text transform="translate(6.00,565.70) scale(0.95,1)" text-anchor="start" font-size="14">P[kW]</text>
<text transform="translate(39.50,801.90) scale(0.95,1)" text-anchor="end" font-size="14">0</text>
<text transform="translate(39.50,765.85) scale(0.95,1)" text-anchor="end" font-size="14">0,25</text>
<text transform="translate(39.50,729.80) scale(0.95,1)" text-anchor="end" font-size="14">0,5</text>
<text transform="translate(39.50,693.75) scale(0.95,1)" text-anchor="end" font-size="14">0,75</text>
<text transform="translate(39.50,657.70) scale(0.95,1)" text-anchor="end" font-size="14">1,0</text>
<text transform="translate(39.50,621.65) scale(0.95,1)" text-anchor="end" font-size="14">1,25</text>
<text transform="translate(39.50,585.60) scale(0.95,1)" text-anchor="end" font-size="14">1,5</text>
<text transform="translate(50.00,816.00) scale(0.95,1)" text-anchor="middle" font-size="14">0</text>
<text transform="translate(96.40,816.00) scale(0.95,1)" text-anchor="middle" font-size="14">0,5</text>
<text transform="translate(142.80,816.00) scale(0.95,1)" text-anchor="middle" font-size="14">1</text>
<text transform="translate(189.20,816.00) scale(0.95,1)" text-anchor="middle" font-size="14">1,5</text>
<text transform="translate(235.60,816.00) scale(0.95,1)" text-anchor="middle" font-size="14">2</text>
<text transform="translate(282.00,816.00) scale(0.95,1)" text-anchor="middle" font-size="14">2,5</text>
<text transform="translate(328.40,816.00) scale(0.95,1)" text-anchor="middle" font-size="14">3</text>
<text transform="translate(374.80,816.00) scale(0.95,1)" text-anchor="middle" font-size="14">3,5</text>
<text transform="translate(421.20,816.00) scale(0.95,1)" text-anchor="middle" font-size="14">4</text>
<text transform="translate(467.60,816.00) scale(0.95,1)" text-anchor="middle" font-size="14">4,5</text>
<text transform="translate(514.00,816.00) scale(0.95,1)" text-anchor="middle" font-size="14">5</text>
<text transform="translate(560.40,816.00) scale(0.95,1)" text-anchor="middle" font-size="14">5,5</text>
<text transform="translate(606.80,816.00) scale(0.95,1)" text-anchor="middle" font-size="14">6</text>
<text transform="translate(653.20,816.00) scale(0.95,1)" text-anchor="middle" font-size="14">6,5</text>
<text transform="translate(699.60,816.00) scale(0.95,1)" text-anchor="middle" font-size="14">7</text>
<text transform="translate(703.00,832.30) scale(0.95,1)" text-anchor="end" font-size="14">Q[m<tspan font-size="5.5" dy="-5.8">3</tspan><tspan dy="5.8">/h]</tspan></text>
<path d="M50.00,736.46 L54.64,735.31 L59.28,734.15 L63.92,732.99 L68.56,731.83 L73.20,730.67 L77.84,729.51 L82.48,728.35 L87.12,727.19 L91.76,726.03 L96.40,724.88 L101.04,723.72 L105.68,722.56 L110.32,721.41 L114.96,720.25 L119.60,719.10 L124.24,717.95 L128.88,716.80 L133.52,715.66 L138.16,714.51 L142.80,713.37 L147.44,712.23 L152.08,711.09 L156.72,709.96 L161.36,708.83 L166.00,707.70 L170.64,706.57 L171.57,706.35" fill="none" stroke="#1e3d86" stroke-width="1.2"/>
<path d="M171.57,706.35 L176.21,705.23 L180.85,704.11 L185.49,703.00 L190.13,701.89 L194.77,700.79 L199.41,699.69 L204.05,698.59 L208.69,697.50 L213.33,696.42 L217.97,695.33 L222.61,694.26 L227.25,693.19 L231.89,692.13 L236.53,691.07 L241.17,690.02 L245.81,688.97 L250.45,687.93 L255.09,686.90 L259.73,685.87 L264.37,684.85 L269.01,683.84 L273.65,682.83 L278.29,681.83 L282.93,680.84 L287.57,679.86 L292.21,678.88 L296.85,677.92 L301.49,676.96 L306.13,676.01 L310.77,675.06 L315.41,674.13 L320.05,673.21 L324.69,672.29 L329.33,671.38 L333.97,670.49 L338.61,669.60 L343.25,668.72 L347.89,667.85 L352.53,667.00 L357.17,666.15 L361.81,665.31 L366.45,664.48 L371.09,663.67 L375.73,662.86 L380.37,662.07 L385.01,661.29 L389.65,660.52 L394.29,659.76 L398.93,659.01 L403.57,658.27 L408.21,657.55 L412.85,656.84 L417.49,656.14 L422.13,655.45 L426.77,654.78 L431.41,654.12 L436.05,653.47 L440.69,652.84 L445.33,652.22 L449.97,651.61 L454.61,651.02 L459.25,650.44 L463.89,649.88 L468.53,649.33 L473.17,648.79 L477.81,648.27 L482.45,647.76 L487.09,647.27 L491.73,646.79 L496.37,646.33 L501.01,645.89 L505.65,645.46 L510.29,645.05 L514.93,644.65 L519.57,644.27 L524.21,643.90 L528.85,643.55 L533.49,643.22 L538.13,642.91 L542.77,642.61 L547.41,642.33 L552.05,642.07 L556.69,641.82 L561.33,641.59 L565.97,641.38 L570.61,641.19 L575.25,641.02 L579.89,640.86 L584.53,640.73 L589.17,640.61 L593.81,640.51 L598.45,640.43 L603.09,640.37 L607.73,640.33 L612.37,640.31 L617.01,640.31 L621.65,640.33 L626.29,640.37 L630.93,640.43 L635.57,640.51 L640.21,640.61 L644.85,640.73 L649.49,640.87 L654.13,641.04 L658.77,641.22 L663.41,641.43 L668.05,641.66 L672.69,641.91 L677.33,642.18 L681.97,642.47 L686.61,642.79 L691.25,643.13 L695.89,643.49 L699.60,643.80" fill="none" stroke="#1e3d86" stroke-width="2.1"/>
<path d="M50.00,752.60 L54.64,751.79 L59.28,750.97 L63.92,750.15 L68.56,749.32 L73.20,748.48 L77.84,747.63 L82.48,746.78 L87.12,745.92 L91.76,745.06 L96.40,744.19 L101.04,743.31 L105.68,742.43 L110.32,741.55 L114.96,740.65 L119.60,739.76 L124.24,738.86 L128.88,737.95 L133.52,737.04 L138.16,736.13 L142.80,735.21 L147.44,734.29 L152.08,733.36 L156.72,732.43 L161.36,731.50 L166.00,730.57 L170.64,729.63 L171.57,729.45" fill="none" stroke="#1e3d86" stroke-width="1.2"/>
<path d="M171.57,729.45 L176.21,728.51 L180.85,727.57 L185.49,726.63 L190.13,725.68 L194.77,724.74 L199.41,723.79 L204.05,722.84 L208.69,721.89 L213.33,720.94 L217.97,719.99 L222.61,719.05 L227.25,718.10 L231.89,717.15 L236.53,716.20 L241.17,715.25 L245.81,714.30 L250.45,713.36 L255.09,712.41 L259.73,711.47 L264.37,710.53 L269.01,709.59 L273.65,708.65 L278.29,707.72 L282.93,706.79 L287.57,705.86 L292.21,704.93 L296.85,704.01 L301.49,703.09 L306.13,702.18 L310.77,701.27 L315.41,700.36 L320.05,699.46 L324.69,698.56 L329.33,697.66 L333.97,696.77 L338.61,695.89 L343.25,695.01 L347.89,694.14 L352.53,693.27 L357.17,692.41 L361.81,691.56 L366.45,690.71 L371.09,689.87 L375.73,689.04 L380.37,688.21 L385.01,687.39 L389.65,686.58 L394.29,685.77 L398.93,684.98 L403.57,684.19 L408.21,683.41 L412.85,682.64 L417.49,681.88 L422.13,681.12 L426.77,680.38 L431.41,679.64 L436.05,678.92 L440.69,678.20 L445.33,677.50 L449.97,676.80 L454.61,676.12 L459.25,675.45 L463.89,674.78 L468.53,674.13 L473.17,673.49 L477.81,672.86 L482.45,672.25 L487.09,671.64 L491.73,671.05 L496.37,670.47 L501.01,669.90 L505.65,669.35 L510.29,668.81 L514.93,668.28 L519.57,667.76 L524.21,667.26 L528.85,666.78 L533.49,666.30 L538.13,665.85 L542.77,665.40 L547.41,664.97 L552.05,664.56 L556.69,664.16 L561.33,663.78 L565.97,663.41 L570.61,663.06 L575.25,662.72 L579.89,662.40 L584.53,662.10 L589.17,661.81 L593.81,661.54 L598.45,661.29 L603.09,661.05 L607.73,660.83 L612.37,660.63 L617.01,660.45 L621.65,660.29 L626.29,660.14 L630.93,660.02 L635.57,659.91 L640.21,659.82 L644.85,659.75 L649.49,659.70 L654.13,659.67 L658.77,659.66 L663.41,659.67 L668.05,659.70 L672.69,659.75 L677.33,659.82 L681.97,659.91 L686.61,660.02 L691.25,660.16 L695.89,660.32 L699.60,660.46" fill="none" stroke="#1e3d86" stroke-width="2.1"/>
<path d="M50.00,763.13 L54.64,762.19 L59.28,761.25 L63.92,760.31 L68.56,759.37 L73.20,758.44 L77.84,757.51 L82.48,756.59 L87.12,755.67 L91.76,754.75 L96.40,753.83 L101.04,752.92 L105.68,752.01 L110.32,751.11 L114.96,750.20 L119.60,749.31 L124.24,748.41 L128.88,747.52 L133.52,746.63 L138.16,745.75 L142.80,744.87 L147.44,744.00 L152.08,743.12 L156.72,742.26 L161.36,741.39 L166.00,740.53 L170.64,739.68 L171.57,739.51" fill="none" stroke="#1e3d86" stroke-width="1.2"/>
<path d="M171.57,739.51 L176.21,738.66 L180.85,737.81 L185.49,736.97 L190.13,736.14 L194.77,735.30 L199.41,734.48 L204.05,733.65 L208.69,732.83 L213.33,732.02 L217.97,731.21 L222.61,730.41 L227.25,729.61 L231.89,728.81 L236.53,728.02 L241.17,727.24 L245.81,726.46 L250.45,725.68 L255.09,724.92 L259.73,724.15 L264.37,723.39 L269.01,722.64 L273.65,721.89 L278.29,721.15 L282.93,720.41 L287.57,719.68 L292.21,718.95 L296.85,718.23 L301.49,717.52 L306.13,716.81 L310.77,716.11 L315.41,715.41 L320.05,714.72 L324.69,714.03 L329.33,713.35 L333.97,712.68 L338.61,712.01 L343.25,711.35 L347.89,710.70 L352.53,710.05 L357.17,709.41 L361.81,708.77 L366.45,708.14 L371.09,707.52 L375.73,706.90 L380.37,706.29 L385.01,705.69 L389.65,705.09 L394.29,704.50 L398.93,703.92 L403.57,703.34 L408.21,702.77 L412.85,702.21 L417.49,701.66 L422.13,701.11 L426.77,700.57 L431.41,700.04 L436.05,699.51 L440.69,698.99 L445.33,698.48 L449.97,697.97 L454.61,697.48 L459.25,696.99 L463.89,696.51 L468.53,696.03 L473.17,695.57 L477.81,695.11 L482.45,694.66 L487.09,694.21 L491.73,693.78 L496.37,693.35 L501.01,692.93 L505.65,692.52 L510.29,692.12 L514.93,691.72 L519.57,691.34 L524.21,690.96 L528.85,690.59 L533.49,690.23 L538.13,689.87 L542.77,689.53 L547.41,689.19 L552.05,688.86 L556.69,688.55 L561.33,688.23 L565.97,687.93 L570.61,687.64 L575.25,687.36 L579.89,687.08 L584.53,686.81 L589.17,686.56 L593.81,686.31 L598.45,686.07 L603.09,685.84 L607.73,685.62 L612.37,685.41 L617.01,685.21 L621.65,685.01 L626.29,684.83 L630.93,684.66 L635.57,684.49 L640.21,684.34 L644.85,684.19 L649.49,684.06 L654.13,683.93 L658.77,683.82 L663.41,683.71 L668.05,683.62 L672.69,683.53 L677.33,683.45 L681.97,683.39 L686.61,683.33 L691.25,683.29 L695.89,683.25 L699.60,683.23" fill="none" stroke="#1e3d86" stroke-width="2.1"/>
<path d="M50.00,768.68 L54.64,767.85 L59.28,767.03 L63.92,766.21 L68.56,765.39 L73.20,764.57 L77.84,763.75 L82.48,762.93 L87.12,762.12 L91.76,761.30 L96.40,760.49 L101.04,759.68 L105.68,758.87 L110.32,758.06 L114.96,757.26 L119.60,756.45 L124.24,755.65 L128.88,754.85 L133.52,754.05 L138.16,753.26 L142.80,752.46 L147.44,751.67 L152.08,750.88 L156.72,750.10 L161.36,749.31 L166.00,748.53 L170.64,747.75 L171.57,747.60" fill="none" stroke="#1e3d86" stroke-width="1.2"/>
<path d="M171.57,747.60 L176.21,746.82 L180.85,746.05 L185.49,745.28 L190.13,744.51 L194.77,743.75 L199.41,742.99 L204.05,742.23 L208.69,741.48 L213.33,740.73 L217.97,739.98 L222.61,739.24 L227.25,738.50 L231.89,737.76 L236.53,737.03 L241.17,736.30 L245.81,735.57 L250.45,734.85 L255.09,734.14 L259.73,733.42 L264.37,732.71 L269.01,732.01 L273.65,731.31 L278.29,730.61 L282.93,729.92 L287.57,729.23 L292.21,728.55 L296.85,727.87 L301.49,727.19 L306.13,726.52 L310.77,725.86 L315.41,725.20 L320.05,724.55 L324.69,723.90 L329.33,723.25 L333.97,722.61 L338.61,721.98 L343.25,721.35 L347.89,720.73 L352.53,720.11 L357.17,719.50 L361.81,718.89 L366.45,718.29 L371.09,717.69 L375.73,717.10 L380.37,716.52 L385.01,715.94 L389.65,715.37 L394.29,714.80 L398.93,714.24 L403.57,713.69 L408.21,713.14 L412.85,712.60 L417.49,712.07 L422.13,711.54 L426.77,711.02 L431.41,710.51 L436.05,710.00 L440.69,709.50 L445.33,709.01 L449.97,708.52 L454.61,708.04 L459.25,707.57 L463.89,707.11 L468.53,706.65 L473.17,706.20 L477.81,705.76 L482.45,705.33 L487.09,704.90 L491.73,704.48 L496.37,704.07 L501.01,703.67 L505.65,703.28 L510.29,702.89 L514.93,702.52 L519.57,702.15 L524.21,701.79 L528.85,701.44 L533.49,701.10 L538.13,700.76 L542.77,700.44 L547.41,700.12 L552.05,699.81 L556.69,699.52 L561.33,699.23 L565.97,698.95 L570.61,698.68 L575.25,698.42 L579.89,698.17 L584.53,697.92 L589.17,697.69 L593.81,697.47 L598.45,697.26 L603.09,697.06 L607.73,696.86 L612.37,696.68 L617.01,696.51 L621.65,696.35 L626.29,696.20 L630.93,696.06 L635.57,695.93 L640.21,695.81 L644.85,695.70 L649.49,695.60 L654.13,695.51 L658.77,695.44 L663.41,695.37 L668.05,695.32 L672.69,695.28 L677.33,695.24 L681.97,695.22 L686.61,695.22 L691.25,695.22 L695.89,695.23 L699.60,695.25" fill="none" stroke="#1e3d86" stroke-width="2.1"/>
<path d="M50.00,776.60 L54.64,775.78 L59.28,774.96 L63.92,774.15 L68.56,773.35 L73.20,772.55 L77.84,771.75 L82.48,770.96 L87.12,770.17 L91.76,769.39 L96.40,768.62 L101.04,767.85 L105.68,767.08 L110.32,766.32 L114.96,765.56 L119.60,764.81 L124.24,764.06 L128.88,763.32 L133.52,762.58 L138.16,761.85 L142.80,761.12 L147.44,760.40 L152.08,759.68 L156.72,758.97 L161.36,758.26 L166.00,757.56 L170.64,756.86 L171.57,756.72" fill="none" stroke="#1e3d86" stroke-width="1.2"/>
<path d="M171.57,756.72 L176.21,756.03 L180.85,755.34 L185.49,754.66 L190.13,753.98 L194.77,753.31 L199.41,752.65 L204.05,751.98 L208.69,751.32 L213.33,750.67 L217.97,750.02 L222.61,749.38 L227.25,748.74 L231.89,748.11 L236.53,747.48 L241.17,746.86 L245.81,746.24 L250.45,745.63 L255.09,745.02 L259.73,744.41 L264.37,743.82 L269.01,743.22 L273.65,742.63 L278.29,742.05 L282.93,741.47 L287.57,740.90 L292.21,740.33 L296.85,739.76 L301.49,739.20 L306.13,738.65 L310.77,738.10 L315.41,737.56 L320.05,737.02 L324.69,736.48 L329.33,735.95 L333.97,735.43 L338.61,734.91 L343.25,734.39 L347.89,733.88 L352.53,733.38 L357.17,732.88 L361.81,732.38 L366.45,731.89 L371.09,731.41 L375.73,730.93 L380.37,730.45 L385.01,729.98 L389.65,729.51 L394.29,729.05 L398.93,728.60 L403.57,728.15 L408.21,727.70 L412.85,727.26 L417.49,726.82 L422.13,726.39 L426.77,725.97 L431.41,725.55 L436.05,725.13 L440.69,724.72 L445.33,724.31 L449.97,723.91 L454.61,723.52 L459.25,723.12 L463.89,722.74 L468.53,722.36 L473.17,721.98 L477.81,721.61 L482.45,721.24 L487.09,720.88 L491.73,720.52 L496.37,720.17 L501.01,719.83 L505.65,719.48 L510.29,719.15 L514.93,718.82 L519.57,718.49 L524.21,718.17 L528.85,717.85 L533.49,717.54 L538.13,717.23 L542.77,716.93 L547.41,716.63 L552.05,716.34 L556.69,716.05 L561.33,715.77 L565.97,715.49 L570.61,715.22 L575.25,714.96 L579.89,714.69 L584.53,714.44 L589.17,714.18 L593.81,713.94 L598.45,713.69 L603.09,713.46 L607.73,713.22 L612.37,713.00 L617.01,712.78 L621.65,712.56 L626.29,712.35 L630.93,712.14 L635.57,711.94 L640.21,711.74 L644.85,711.55 L649.49,711.36 L654.13,711.18 L658.77,711.00 L663.41,710.83 L668.05,710.66 L672.69,710.50 L677.33,710.34 L681.97,710.19 L686.61,710.04 L691.25,709.90 L695.89,709.76 L699.60,709.65" fill="none" stroke="#1e3d86" stroke-width="2.1"/>
<path d="M50.00,785.36 L54.64,784.81 L59.28,784.25 L63.92,783.70 L68.56,783.15 L73.20,782.60 L77.84,782.05 L82.48,781.51 L87.12,780.97 L91.76,780.43 L96.40,779.89 L101.04,779.36 L105.68,778.82 L110.32,778.29 L114.96,777.77 L119.60,777.24 L124.24,776.72 L128.88,776.20 L133.52,775.68 L138.16,775.17 L142.80,774.65 L147.44,774.14 L152.08,773.64 L156.72,773.13 L161.36,772.63 L166.00,772.13 L170.64,771.63 L171.57,771.53" fill="none" stroke="#1e3d86" stroke-width="1.2"/>
<path d="M171.57,771.53 L176.21,771.04 L180.85,770.55 L185.49,770.06 L190.13,769.57 L194.77,769.09 L199.41,768.61 L204.05,768.13 L208.69,767.65 L213.33,767.18 L217.97,766.71 L222.61,766.24 L227.25,765.77 L231.89,765.31 L236.53,764.85 L241.17,764.40 L245.81,763.94 L250.45,763.49 L255.09,763.04 L259.73,762.60 L264.37,762.15 L269.01,761.71 L273.65,761.28 L278.29,760.84 L282.93,760.41 L287.57,759.98 L292.21,759.56 L296.85,759.13 L301.49,758.72 L306.13,758.30 L310.77,757.88 L315.41,757.47 L320.05,757.07 L324.69,756.66 L329.33,756.26 L333.97,755.86 L338.61,755.47 L343.25,755.07 L347.89,754.68 L352.53,754.30 L357.17,753.91 L361.81,753.53 L366.45,753.16 L371.09,752.78 L375.73,752.41 L380.37,752.05 L385.01,751.68 L389.65,751.32 L394.29,750.96 L398.93,750.61 L403.57,750.26 L408.21,749.91 L412.85,749.56 L417.49,749.22 L422.13,748.88 L426.77,748.55 L431.41,748.22 L436.05,747.89 L440.69,747.56 L445.33,747.24 L449.97,746.92 L454.61,746.61 L459.25,746.29 L463.89,745.99 L468.53,745.68 L473.17,745.38 L477.81,745.08 L482.45,744.79 L487.09,744.50 L491.73,744.21 L496.37,743.93 L501.01,743.64 L505.65,743.37 L510.29,743.09 L514.93,742.82 L519.57,742.56 L524.21,742.29 L528.85,742.04 L533.49,741.78 L538.13,741.53 L542.77,741.28 L547.41,741.04 L552.05,740.79 L556.69,740.56 L561.33,740.32 L565.97,740.09 L570.61,739.87 L575.25,739.64 L579.89,739.43 L584.53,739.21 L589.17,739.00 L593.81,738.79 L598.45,738.59 L603.09,738.39 L607.73,738.19 L612.37,738.00 L617.01,737.81 L621.65,737.63 L626.29,737.45 L630.93,737.27 L635.57,737.10 L640.21,736.93 L644.85,736.76 L649.49,736.60 L654.13,736.44 L658.77,736.29 L663.41,736.14 L668.05,736.00 L672.69,735.86 L677.33,735.72 L681.97,735.59 L686.61,735.46 L691.25,735.33 L695.89,735.21 L698.21,735.15" fill="none" stroke="#1e3d86" stroke-width="2.1"/>
<text transform="translate(653.00,636.70) scale(0.95,1)" text-anchor="start" font-size="14" class="halo">- 70 (T)</text>
<text transform="translate(653.00,655.00) scale(0.95,1)" text-anchor="start" font-size="14" class="halo">- 60 (T)</text>
<text transform="translate(653.00,674.80) scale(0.95,1)" text-anchor="start" font-size="14" class="halo">- 50 (T)</text>
<text transform="translate(653.00,693.40) scale(0.95,1)" text-anchor="start" font-size="14" class="halo">- 40 (T)</text>
<text transform="translate(653.00,712.80) scale(0.95,1)" text-anchor="start" font-size="14" class="halo">- 30 (T)</text>
<text transform="translate(653.00,733.70) scale(0.95,1)" text-anchor="start" font-size="14" class="halo">- 20 (T)</text>
</svg>
</body></html>
